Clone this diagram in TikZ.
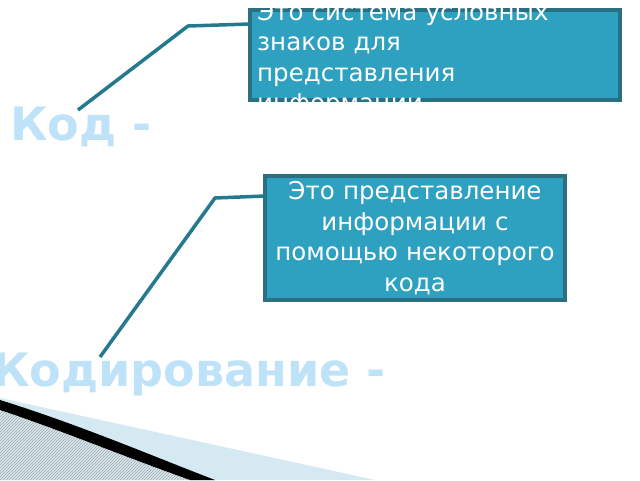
\documentclass[tikz,border=0pt]{standalone}
\usepackage{fontspec}
\setmainfont{DejaVu Sans}
\usetikzlibrary{patterns}
\definecolor{boxfill}{HTML}{2EA0C0}
\definecolor{boxline}{HTML}{2A6F82}
\definecolor{conn}{HTML}{25798F}
\definecolor{lbl}{HTML}{BEE3F8}
\definecolor{wedge}{HTML}{D5E9F2}
\tikzset{
  tbox/.style={draw=boxline,fill=boxfill,line width=3.5pt},
  conline/.style={draw=conn,line width=3.5pt,line join=round},
  bigl/.style={text=lbl,font=\bfseries\fontsize{46}{46}\selectfont,anchor=west,inner sep=0},
  btext/.style={text=white,font=\fontsize{24.5}{30.5}\selectfont,inner sep=0}
}
\begin{document}
\begin{tikzpicture}[x=1pt,y=-1pt]
\useasboundingbox (0,0) rectangle (640,480);
\clip (0,0) rectangle (640,480);
\fill[white] (0,0) rectangle (640,480);
% bottom decoration
\fill[wedge] (0,398) -- (375,480) -- (0,480) -- cycle;
\fill[black] (0,400) .. controls (80,425) and (150,455) .. (215,480) -- (190,480) .. controls (120,455) and (60,430) .. (0,410) -- cycle;
\fill[pattern=north east lines,pattern color=gray!70] (0,410) .. controls (60,430) and (120,455) .. (190,480) -- (0,480) -- cycle;
% boxes
\draw[tbox] (250,10) rectangle (620,100);
\node[btext,anchor=base west,align=left,text width=360] (t1) at (257,20) {Это система условных\\знаков для\\представления\\информации};
\draw[tbox] (265,176) rectangle (565,300);
\node[btext,align=center,text width=300] (t2) at (415,238) {Это представление\\информации с\\помощью некоторого\\кода};
% labels
\node[bigl] (kod) at (10,127) {Код -};
\node[bigl] (kodir) at (-8,375) {Кодирование -};
% connectors
\coordinate (c1a) at (78,110);
\coordinate (c1b) at (188,26);
\coordinate (c1c) at (250,24);
\draw[conline] (c1a) -- (c1b) -- (c1c);
\coordinate (c2a) at (100,357);
\coordinate (c2b) at (215,198);
\coordinate (c2c) at (265,196);
\draw[conline] (c2a) -- (c2b) -- (c2c);
\end{tikzpicture}
\end{document}
